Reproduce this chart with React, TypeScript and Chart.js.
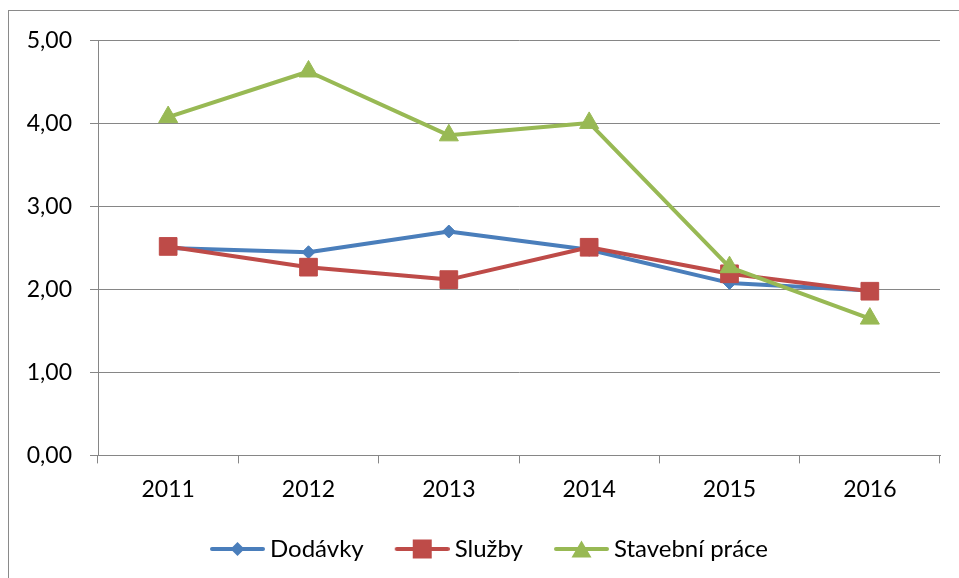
import React, { useEffect, useRef } from 'react';
import { Chart, registerables } from 'chart.js';

Chart.register(...registerables);

const years = ['2011', '2012', '2013', '2014', '2015', '2016'];
const dodavky = [2.5, 2.45, 2.7, 2.48, 2.08, 1.99];
const sluzby = [2.52, 2.27, 2.12, 2.51, 2.19, 1.98];
const stavebni = [4.08, 4.63, 3.86, 4.01, 2.27, 1.65];
const seriesNames = ['Dodávky', 'Služby', 'Stavební práce'];
const seriesColors = ['#4A7EBB', '#BE4B48', '#98B954'];
const seriesShapes = ['rectRot', 'rect', 'triangle'];

const FONT = 'Lato';
const FS = 23;
const LFS = 24;
const GRID = '#868686';
const BOX = 57;

function makeIcon(color: string, shape: string): HTMLCanvasElement {
  const W = BOX + LFS / 2 + 2, H = 26;
  const c = document.createElement('canvas');
  c.width = W;
  c.height = H;
  const ctx = c.getContext('2d')!;
  const y = H / 2;
  const x0 = W - 55, x1 = W;
  const cx = (x0 + x1) / 2;
  ctx.strokeStyle = color;
  ctx.lineWidth = 4;
  ctx.lineCap = 'round';
  ctx.beginPath();
  ctx.moveTo(x0 + 2, y);
  ctx.lineTo(x1 - 2, y);
  ctx.stroke();
  ctx.fillStyle = color;
  ctx.beginPath();
  if (shape === 'rectRot') {
    const r = 7;
    ctx.moveTo(cx - r, y);
    ctx.lineTo(cx, y - r);
    ctx.lineTo(cx + r, y);
    ctx.lineTo(cx, y + r);
    ctx.closePath();
  } else if (shape === 'rect') {
    const s = 9.5;
    ctx.rect(cx - s, y - s, 2 * s, 2 * s);
  } else {
    const hw = 10, hh = 8.5;
    ctx.moveTo(cx, y - hh);
    ctx.lineTo(cx + hw, y + hh);
    ctx.lineTo(cx - hw, y + hh);
    ctx.closePath();
  }
  ctx.fill();
  return c;
}

export default function App() {
  const ref = useRef<HTMLCanvasElement | null>(null);

  useEffect(() => {
    if (!ref.current) return;
    const icons = seriesColors.map((c, i) => makeIcon(c, seriesShapes[i]));
    const values = [dodavky, sluzby, stavebni];
    const radii = [6.5, 12.5, 11];
    const chart = new Chart(ref.current, {
      type: 'line',
      data: {
        labels: years,
        datasets: values.map((v, i) => ({
          label: seriesNames[i],
          data: v,
          borderColor: seriesColors[i],
          backgroundColor: seriesColors[i],
          pointBackgroundColor: seriesColors[i],
          pointBorderColor: seriesColors[i],
          pointBorderWidth: 1,
          pointStyle: seriesShapes[i] as any,
          pointRadius: radii[i],
          borderWidth: 4,
          tension: 0,
          fill: false,
          borderJoinStyle: 'round' as const,
          borderCapStyle: 'round' as const,
          order: 3 - i,
        })),
      },
      options: {
        responsive: false,
        animation: false,
        layout: { padding: { top: 25, right: 15, bottom: 10, left: 0 } },
        plugins: {
          tooltip: { enabled: false },
          legend: {
            position: 'bottom',
            labels: {
              usePointStyle: true,
              pointStyleWidth: BOX,
              padding: 22,
              color: '#000',
              font: { family: FONT, size: LFS },
              generateLabels: () =>
                seriesNames.map((n, i) => ({
                  text: n,
                  datasetIndex: i,
                  pointStyle: icons[i],
                  fillStyle: seriesColors[i],
                  strokeStyle: seriesColors[i],
                  lineWidth: 0,
                  hidden: false,
                  fontColor: '#000',
                })),
            },
          },
        },
        scales: {
          x: {
            offset: true,
            grid: {
              offset: true,
              drawOnChartArea: false,
              drawTicks: true,
              tickLength: 8,
              color: GRID,
              lineWidth: 1,
            },
            border: { color: GRID, width: 1 },
            ticks: {
              color: '#000',
              font: { family: FONT, size: FS },
              padding: 12,
              maxRotation: 0,
            },
          },
          y: {
            min: 0,
            max: 5,
            afterFit: (s: any) => {
              s.width = 89;
            },
            grid: {
              color: GRID,
              lineWidth: 1,
              tickLength: 8,
            },
            border: { color: GRID, width: 1 },
            ticks: {
              stepSize: 1,
              color: '#000',
              padding: 18,
              font: { family: FONT, size: FS },
              callback: (v: any) => Number(v).toFixed(2).replace('.', ','),
            },
          },
          spacer: {
            type: 'linear',
            position: 'right',
            display: true,
            grid: { display: false, drawTicks: false },
            border: { display: false },
            ticks: { display: false },
            afterFit: (s: any) => {
              s.width = 20;
            },
          },
        },
      },
    });
    return () => chart.destroy();
  }, []);

  return (
    <div
      style={{
        position: 'absolute',
        left: 0,
        top: 0,
        width: 959,
        height: 578,
        overflow: 'hidden',
        background: '#fff',
      }}
    >
      <div
        style={{
          position: 'absolute',
          left: 8,
          top: 10,
          width: 966,
          height: 600,
          border: '1px solid #8a8a8a',
        }}
      >
        <canvas
          ref={ref}
          width={966}
          height={572}
          style={{ display: 'block', position: 'relative', top: -2 }}
        />
      </div>
    </div>
  );
}
